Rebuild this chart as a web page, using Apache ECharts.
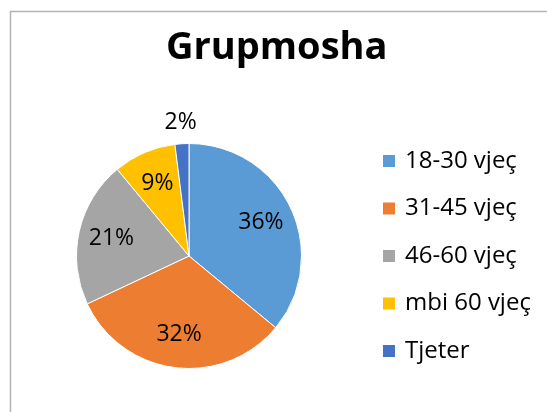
<!DOCTYPE html>
<html>
<head>
<meta charset="utf-8">
<script src="https://cdn.jsdelivr.net/npm/echarts@6/dist/echarts.min.js"></script>
<style>html,body{margin:0;padding:0;background:#fff;}#c{width:547px;height:412px;}</style>
</head>
<body>
<div id="c"></div>
<script>
const titleText = 'Grupmosha';
const categories = ['18-30 vjeç', '31-45 vjeç', '46-60 vjeç', 'mbi 60 vjeç', 'Tjeter'];
const values = [36, 32, 21, 9, 2];
const colors = ['#5B9BD5', '#ED7D31', '#A5A5A5', '#FFC000', '#4472C4'];
const outsideLabels = ['Tjeter'];

const FONT = '"Open Sans", "Liberation Sans", sans-serif';
const chart = echarts.init(document.getElementById('c'), null, {renderer: 'canvas'});
const R = 112.5;
const center = [189, 256];

const baseData = categories.map((c, i) => ({name: c, value: values[i], itemStyle: {color: colors[i]}}));
const innerLabelData = categories.map((c, i) => ({
  name: c, value: values[i],
  label: {show: outsideLabels.indexOf(c) < 0}
}));
const outerLabelData = categories.map((c, i) => ({
  name: c, value: values[i],
  label: {show: outsideLabels.indexOf(c) >= 0}
}));
const labelStyle = {
  position: 'inside', formatter: '{d}%', color: '#000',
  fontFamily: FONT, fontSize: 23
};

chart.setOption({
  animation: false,
  title: {
    text: titleText, left: 161, top: 24, padding: 5,
    textStyle: {fontFamily: FONT, fontWeight: 'bold', fontSize: 38, color: '#000'}
  },
  graphic: [{
    type: 'rect', silent: true, z: -1,
    shape: {x: 10.5, y: 11.5, width: 600, height: 500},
    style: {fill: 'none', stroke: '#b4b4b4', lineWidth: 1.5}
  }],
  legend: {
    orient: 'vertical', left: 381, top: 148, padding: 0,
    icon: 'rect', itemWidth: 14, itemHeight: 14, itemGap: 21.5,
    data: categories,
    textStyle: {fontFamily: FONT, fontSize: 24, color: '#000', lineHeight: 26, padding: [0, 0, 0, 4]}
  },
  series: [
    {
      type: 'pie', center: center, radius: [0, R], startAngle: 90, clockwise: true,
      data: baseData, label: {show: false}, labelLine: {show: false},
      itemStyle: {borderColor: '#fff', borderWidth: 1}, silent: true
    },
    {
      type: 'pie', center: center, radius: [R * 0.36, R], startAngle: 90, clockwise: true,
      data: innerLabelData, itemStyle: {color: 'rgba(0,0,0,0)'}, silent: true,
      label: labelStyle, labelLine: {show: false}, legendHoverLink: false
    },
    {
      type: 'pie', center: center, radius: [R * 1.10, R * 1.23], startAngle: 90, clockwise: true,
      data: outerLabelData, itemStyle: {color: 'rgba(0,0,0,0)'}, silent: true,
      label: labelStyle, labelLine: {show: false}, legendHoverLink: false
    }
  ]
});
</script>
</body>
</html>
